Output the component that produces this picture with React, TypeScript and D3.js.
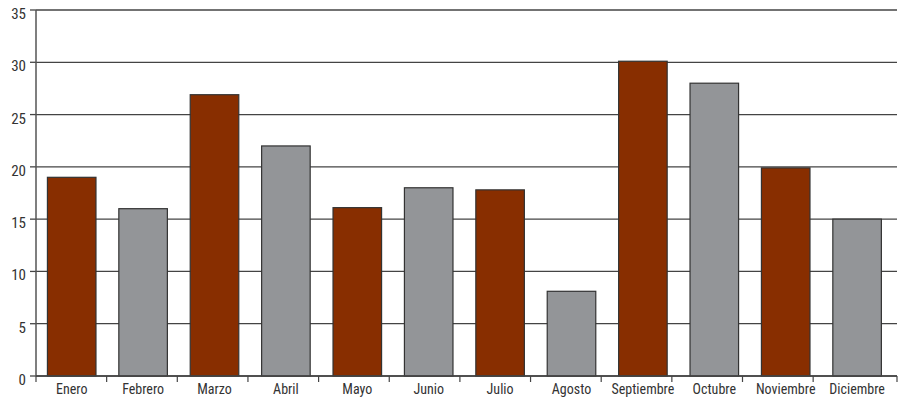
import { scaleBand, scaleLinear } from "d3";

const months = [
  "Enero", "Febrero", "Marzo", "Abril", "Mayo", "Junio",
  "Julio", "Agosto", "Septiembre", "Octubre", "Noviembre", "Diciembre",
];
const values = [19, 16, 26.9, 22, 16.1, 18, 17.8, 8.1, 30.1, 28, 19.9, 15];
const colors = ["#882e00", "#939598"];
const yTicks = [0, 5, 10, 15, 20, 25, 30, 35];

const W = 899;
const H = 402;
const m = { left: 36, right: 2, top: 10, bottom: 26 };
const font = "'Liberation Sans Narrow', 'Arial Narrow', 'Roboto Condensed', sans-serif";

export default function App() {
  const x0 = m.left;
  const x1 = W - m.right;
  // bars and category ticks are laid out on slightly different grids in the original
  const x = scaleBand<string>()
    .domain(months)
    .range([x0, x0 + 12 * 71.4])
    .paddingInner(0.32)
    .paddingOuter(0.16);
  const xt = scaleBand<string>().domain(months).range([x0, x0 + 12 * 70.65]);
  const y = scaleLinear().domain([0, 35]).range([H - m.bottom, m.top]);

  const tickX = months.map((mo) => xt(mo)!).concat([x1]);

  return (
    <svg
      width={W}
      height={H}
      style={{ position: "absolute", left: 0, top: 0, background: "#fff" }}
      fontFamily={font}
    >
      {/* grid + y ticks */}
      {yTicks.map((t) => (
        <g key={t}>
          <line x1={x0} x2={x1} y1={y(t)} y2={y(t)} stroke="#444" strokeWidth={1.3} />
          <line x1={x0 - 6} x2={x0} y1={y(t)} y2={y(t)} stroke="#444" strokeWidth={1.3} />
          <text x={x0 - 10} y={y(t) + 5} textAnchor="end" dominantBaseline="middle" fontSize={15} fill="#333">
            {t}
          </text>
        </g>
      ))}

      {/* bars */}
      {months.map((mo, i) => (
        <rect
          key={mo}
          x={x(mo)!}
          y={y(values[i])}
          width={x.bandwidth()}
          height={y(0) - y(values[i])}
          fill={colors[i % 2]}
          stroke="#333"
          strokeWidth={1.2}
        />
      ))}

      {/* axes */}
      <line x1={x0} x2={x0} y1={y(35)} y2={y(0)} stroke="#555" strokeWidth={1.5} />
      <line x1={x0} x2={x1} y1={y(0)} y2={y(0)} stroke="#444" strokeWidth={1.5} />
      {tickX.map((tx, i) => (
        <line key={"t" + i} x1={tx} x2={tx} y1={y(0)} y2={y(0) + 6} stroke="#444" strokeWidth={1.2} />
      ))}
      {months.map((mo) => (
        <text
          key={"l" + mo}
          x={x(mo)! + x.bandwidth() / 2}
          y={H - 8}
          textAnchor="middle"
          fontSize={14}
          fill="#333"
        >
          {mo}
        </text>
      ))}
    </svg>
  );
}
